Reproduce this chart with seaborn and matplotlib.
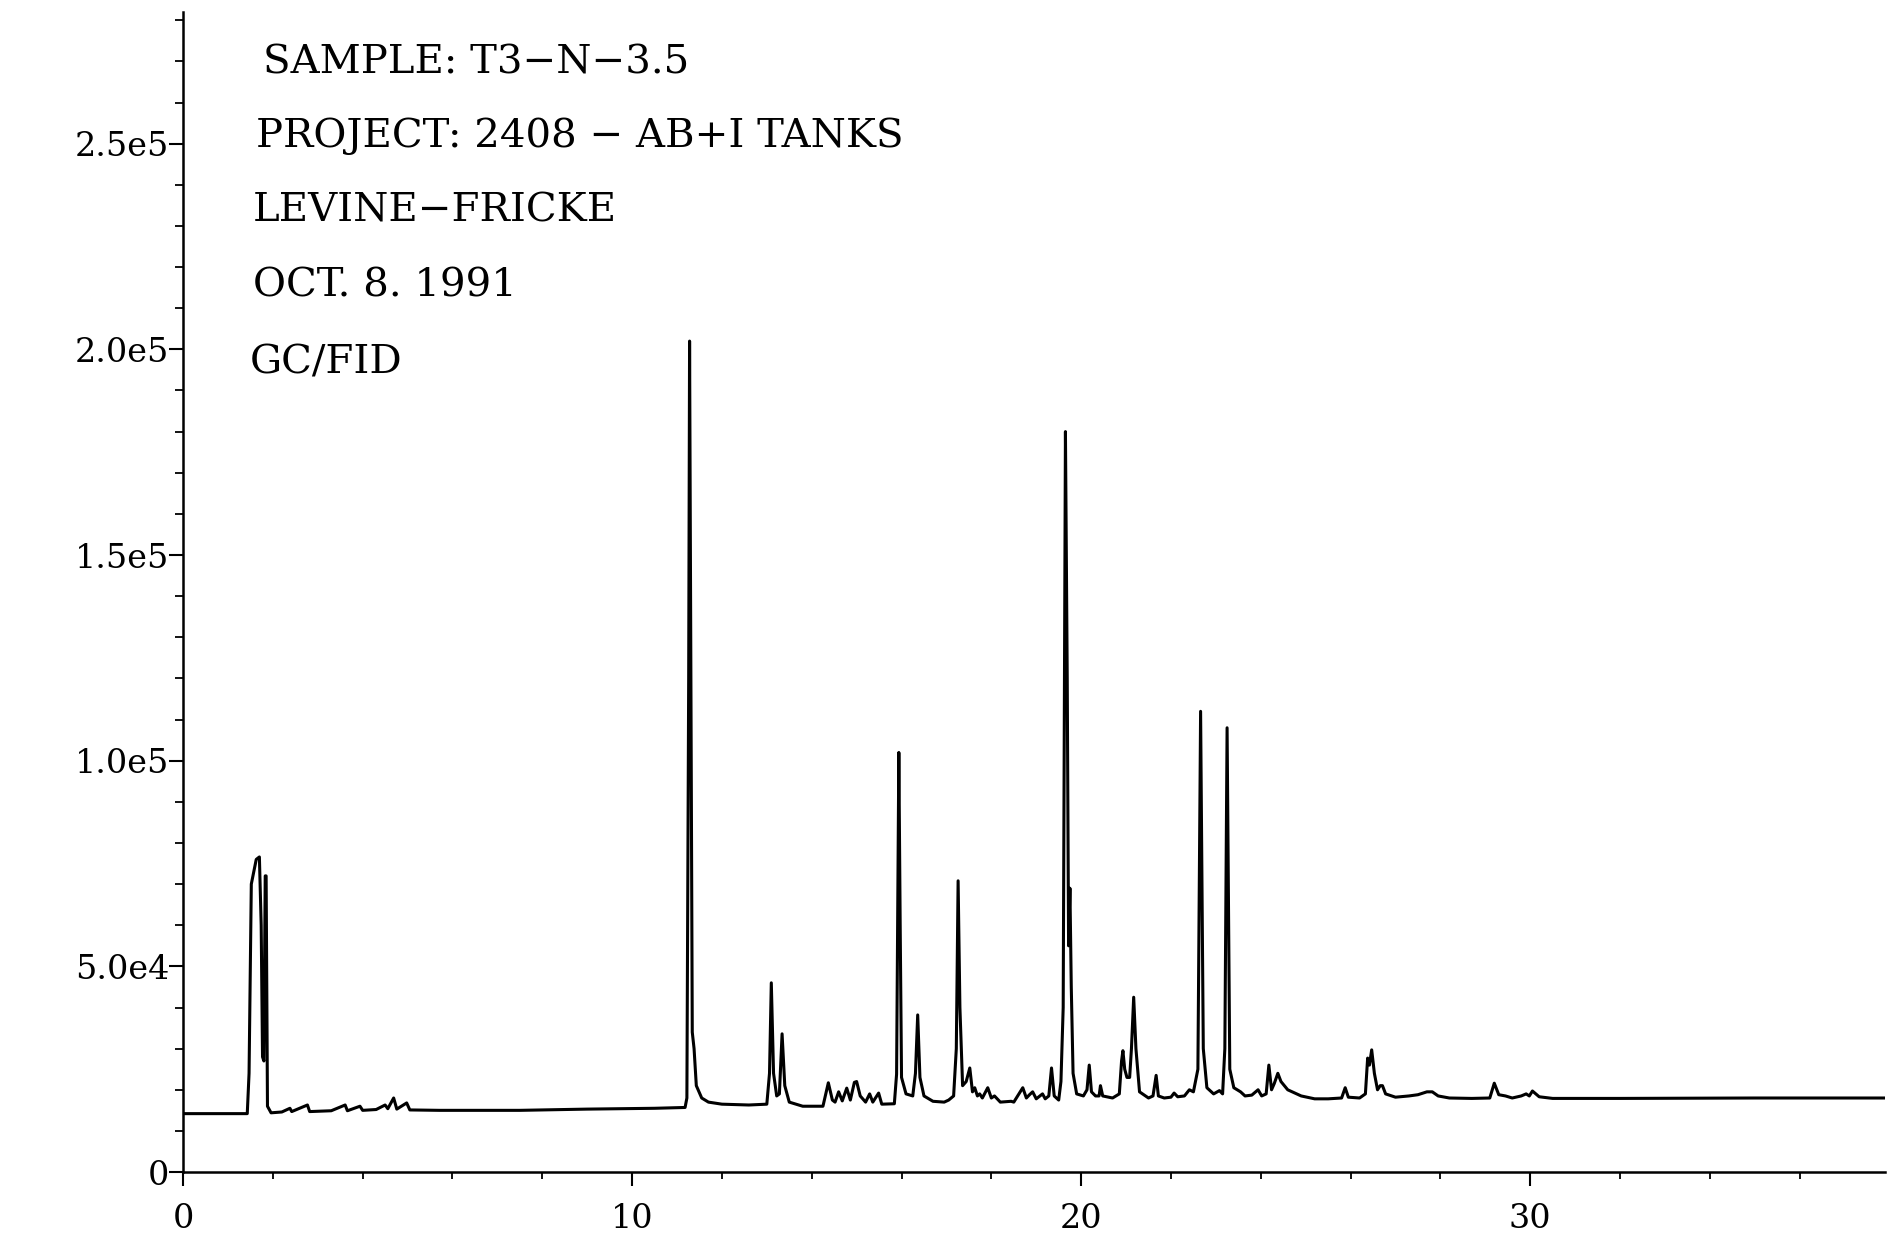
import pandas as pd
import seaborn as sns
import matplotlib.pyplot as plt
from matplotlib.ticker import MultipleLocator

# GC/FID trace (retention time in min, response)
rt_min = [
    0.0, 1.43, 1.47, 1.52, 1.63, 1.70, 1.74, 1.77, 1.80, 1.83, 1.85, 1.88, 1.96,
    2.20, 2.38, 2.42, 2.77, 2.82, 3.30, 3.61, 3.66, 3.94, 4.00, 4.30, 4.50, 4.56,
    4.69, 4.76, 4.98, 5.05, 5.71, 6.38, 7.50, 9.00, 10.50, 11.18,
    11.22, 11.26, 11.28, 11.31, 11.34, 11.38, 11.43, 11.55, 11.70, 12.00, 12.60,
    13.00, 13.06, 13.10, 13.15, 13.22, 13.28, 13.34, 13.40, 13.50, 13.80, 14.25,
    14.37, 14.46, 14.52, 14.60, 14.68, 14.78, 14.86, 14.95, 15.00, 15.08, 15.20,
    15.29, 15.36, 15.49, 15.56, 15.84,
    15.89, 15.94, 15.97, 16.00, 16.10, 16.25, 16.31, 16.36, 16.41, 16.50, 16.70,
    16.95, 17.05, 17.16, 17.22, 17.26, 17.30, 17.36, 17.44, 17.52, 17.58, 17.63,
    17.69, 17.74, 17.80, 17.92, 18.00, 18.07, 18.20, 18.44, 18.50, 18.70, 18.78,
    18.85, 18.92, 19.00, 19.14, 19.20, 19.28, 19.34, 19.40, 19.50, 19.55,
    19.60, 19.65, 19.69, 19.72, 19.75, 19.78, 19.82, 19.90, 20.05, 20.13, 20.18,
    20.23, 20.32, 20.40, 20.43, 20.48, 20.70, 20.85, 20.90, 20.93, 20.97, 21.02,
    21.08, 21.12, 21.17, 21.22, 21.30, 21.50, 21.60, 21.67, 21.72, 21.85, 22.00,
    22.07, 22.15, 22.30, 22.41, 22.50, 22.60,
    22.66, 22.72, 22.80, 22.95, 23.08, 23.15, 23.20, 23.25, 23.31, 23.40, 23.55,
    23.65, 23.80, 23.94, 24.02, 24.12, 24.18, 24.24, 24.30, 24.38, 24.45, 24.60,
    24.90, 25.20, 25.50, 25.80, 25.88, 25.95, 26.20, 26.33, 26.38, 26.42, 26.47,
    26.53, 26.60, 26.66, 26.71, 26.78, 27.00, 27.30, 27.50, 27.70, 27.82, 27.95,
    28.20, 28.70, 29.10, 29.20, 29.30, 29.45, 29.60, 29.80, 29.91, 29.98, 30.05,
    30.20, 30.50, 32.00, 35.00, 37.90,
]
response = [
    14200, 14200, 24000, 70000, 76000, 76600, 60000, 28000, 27000, 72000, 72000, 16000, 14400,
    14600, 15500, 14700, 16300, 14700, 14900, 16300, 14900, 16000, 15000, 15200, 16300, 15400,
    18000, 15300, 16800, 15100, 15000, 15000, 15000, 15300, 15500, 15700,
    18000, 120000, 202000, 120000, 34000, 30000, 21000, 18000, 17000, 16500, 16300,
    16500, 24000, 46000, 24000, 18500, 19000, 33600, 21000, 17000, 16000, 16000,
    21700, 17500, 17000, 19500, 17300, 20400, 17500, 21800, 22000, 18500, 17000,
    19000, 17000, 19200, 16500, 16600,
    23800, 102000, 60000, 23000, 19000, 18500, 24000, 38200, 23000, 18500, 17200,
    17000, 17500, 18500, 30000, 70800, 40000, 21000, 22000, 25300, 19500, 20500,
    18500, 19000, 18000, 20500, 18000, 18500, 17000, 17200, 17000, 20500, 18000,
    18800, 19500, 17800, 19000, 17800, 18500, 25300, 18500, 17500, 22000,
    40000, 180000, 120000, 55000, 69000, 45000, 24000, 19000, 18500, 20000, 26000,
    19500, 18500, 18500, 21000, 18500, 18000, 19000, 27000, 29500, 25000, 23000,
    23000, 30000, 42500, 30000, 19500, 18000, 18500, 23500, 18500, 18000, 18200,
    19200, 18300, 18500, 20000, 19500, 25000,
    112000, 30000, 20500, 19000, 19800, 19000, 30000, 108000, 25000, 20500, 19500,
    18500, 18700, 20000, 18500, 19000, 26000, 20000, 21500, 24000, 22000, 20000,
    18500, 17800, 17800, 18000, 20500, 18200, 18000, 19000, 27700, 26000, 29700,
    24000, 20000, 21000, 21000, 19000, 18200, 18500, 18800, 19500, 19500, 18500,
    18000, 17900, 18000, 21600, 18800, 18500, 18000, 18500, 19000, 18500, 19700,
    18300, 17900, 17900, 18000, 18000,
]

header_lines = [
    "SAMPLE: T3\u2212N\u22123.5",
    "PROJECT: 2408 \u2212 AB+I TANKS",
    "LEVINE\u2212FRICKE",
    "OCT. 8. 1991",
    "GC/FID",
]
x_ticks = [0, 10, 20, 30]
y_ticks = [0, 50000, 100000, 150000, 200000, 250000]
y_tick_labels = ["0", "5.0e4", "1.0e5", "1.5e5", "2.0e5", "2.5e5"]

sns.set_theme(style="ticks")
plt.rcParams['font.family'] = ['DejaVu Serif', 'DejaVu Sans']

fig = plt.figure(figsize=(18.91, 12.40), dpi=100)
ax = fig.add_axes([0.0968, 0.0548, 0.900, 0.9355])

df = pd.DataFrame({'rt': rt_min, 'resp': response})
sns.lineplot(data=df, x='rt', y='resp', ax=ax, color='black', linewidth=2.2,
             estimator=None, sort=False)

ax.set_xlim(0, 37.9)
ax.set_ylim(0, 282000)
ax.set_xlabel('')
ax.set_ylabel('')
sns.despine(ax=ax)
for side in ['left', 'bottom']:
    ax.spines[side].set_linewidth(1.8)
    ax.spines[side].set_color('black')

ax.set_xticks(x_ticks)
ax.set_xticklabels([str(t) for t in x_ticks])
ax.set_yticks(y_ticks)
ax.set_yticklabels(y_tick_labels)
ax.xaxis.set_minor_locator(MultipleLocator(2))
ax.yaxis.set_minor_locator(MultipleLocator(10000))

ax.tick_params(axis='y', which='major', length=10, width=1.5, pad=0,
               labelsize=24, colors='black')
ax.tick_params(axis='y', which='minor', length=6, width=1.3, colors='black')
ax.tick_params(axis='x', which='major', length=10, width=1.5, pad=12,
               labelsize=24, colors='black')
ax.tick_params(axis='x', which='minor', length=5, width=1.3, colors='black')

# header block, top left inside the plot
line_y = [63, 136, 211, 286, 363]
line_x = [263, 256, 253, 253, 250]
for txt, px, py in zip(header_lines, line_x, line_y):
    fig.text(px / 1891, 1 - py / 1240, txt, fontsize=29, color='black',
             ha='left', va='center')

fig.savefig('out.png', dpi=100, facecolor='white')
